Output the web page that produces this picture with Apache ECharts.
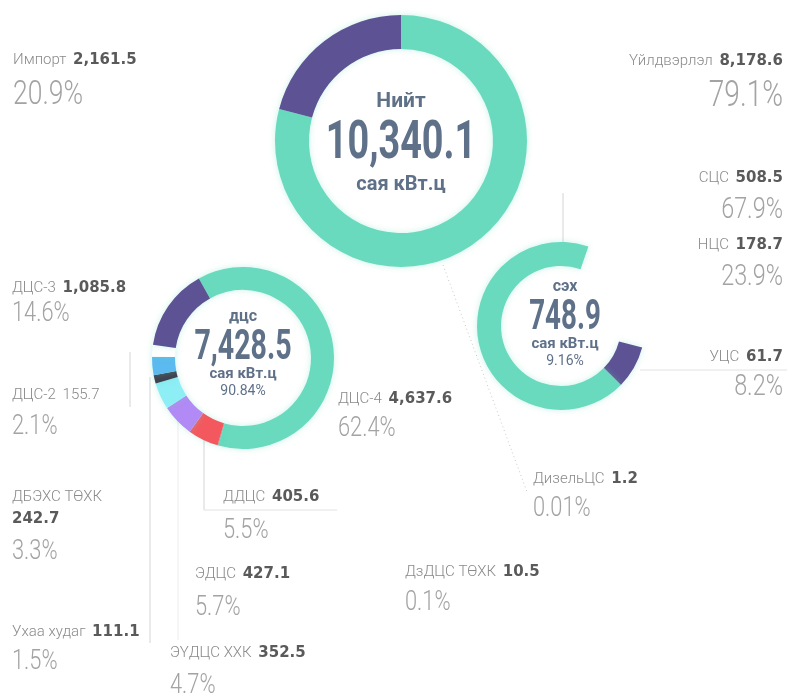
<!DOCTYPE html>
<html>
<head>
<meta charset="utf-8">
<script src="https://cdn.jsdelivr.net/npm/echarts@6/dist/echarts.min.js"></script>
<style>
  html, body { margin: 0; padding: 0; background: #fff; }
  #chart { width: 787px; height: 696px; }
</style>
</head>
<body>
<div id="chart"></div>
<script>
// нийт: үйлдвэрлэл + импорт
const totalNames = ['Үйлдвэрлэл', 'Импорт']
const totalValues = [8178.6, 2161.5]
const totalPct = ['79.1%', '20.9%']

// ДЦС (цагийн зүүний дагуу, дээрээс)
const dcsNames = ['ДЦС-4', 'ДзДЦС ТӨХК', 'ДДЦС', 'ЭДЦС', 'ЭҮДЦС ХХК', 'Ухаа худаг', 'ДБЭХС ТӨХК', 'ДЦС-2', 'ДЦС-3']
const dcsValues = [4637.6, 10.5, 405.6, 427.1, 352.5, 111.1, 242.7, 155.7, 1085.8]
const dcsPct = ['62.4%', '0.1%', '5.5%', '5.7%', '4.7%', '1.5%', '3.3%', '2.1%', '14.6%']

// СЭХ
const sehNames = ['НЦС', 'УЦС', 'СЦС']
const sehValues = [178.7, 61.7, 508.5]
const sehPct = ['23.9%', '8.2%', '67.9%']

// дизель
const dieselName = 'ДизельЦС'
const dieselValue = 1.2
const dieselPct = '0.01%'

// төвийн бичвэр
const centerTitles = ['Нийт', 'дцс', 'сэх']
const centerTotals = ['10,340.1', '7,428.5', '748.9']
const centerShares = ['', '90.84%', '9.16%']
const unit = 'сая кВт.ц'

const TEAL = '#69dabd'
const PURPLE = '#5d5394'
const SLATE = '#5f7189'
const SANS = "Roboto,'Noto Sans',sans-serif"
const BOLD = "'DejaVu Sans',sans-serif"

const fmt = v => v.toLocaleString('en-US', { minimumFractionDigits: 1, maximumFractionDigits: 1 })

let mycharts = echarts.init(document.getElementById('chart'), null, { renderer: 'canvas' })

// шахсан (нарийн) бичвэр
function narrow(x, y, text, size, align, scale, color, weight = 300) {
  return {
    type: 'text', silent: true,
    x: x, y: y, scaleX: scale,
    style: {
      x: 0, y: 0, text: text,
      align: align, verticalAlign: 'middle',
      fontSize: size, fontWeight: weight, fontFamily: SANS, fill: color,
    },
  }
}

// нэг шошго: нэр + утга, доор нь хувь
function label(x, y, name, value, pct, align, pctSize, valueBold = true, gap = 31) {
  return [
    {
      type: 'text',
      silent: true,
      style: {
        x: x, y: y,
        text: '{n|' + name + '}  {v|' + value + '}',
        align: align, verticalAlign: 'middle',
        rich: {
          n: { fontSize: 15, fontWeight: 300, fontFamily: SANS, fill: '#8a8a8a', color: '#8a8a8a' },
          v: valueBold
            ? { fontSize: 15, fontFamily: BOLD, fontWeight: 'bold', color: '#5a5a5a', fill: '#5a5a5a' }
            : { fontSize: 15, fontFamily: SANS, fontWeight: 300, color: '#8a8a8a', fill: '#8a8a8a' },
        },
      },
    },
    narrow(x, y + gap, pct, pctSize, align, 0.78, '#a3a3a3'),
  ]
}

function line(x1, y1, x2, y2, color = '#d4d4d4', dash = null) {
  return {
    type: 'line', silent: true,
    shape: { x1, y1, x2, y2 },
    style: { stroke: color, lineWidth: 1, lineDash: dash },
  }
}

function center(cx, cy, i, big, small, titleSize, gapTop, gapBottom, scale) {
  const out = [
    { type: 'text', silent: true, style: { x: cx, y: cy - gapTop, text: centerTitles[i], align: 'center', verticalAlign: 'middle', fontSize: titleSize, fontWeight: 'bold', fontFamily: SANS, fill: SLATE } },
    narrow(cx, cy, centerTotals[i], big, 'center', scale, SLATE, 'bold'),
    { type: 'text', silent: true, style: { x: cx, y: cy + gapBottom, text: unit, align: 'center', verticalAlign: 'middle', fontSize: small, fontWeight: 'bold', fontFamily: SANS, fill: SLATE } },
  ]
  if (centerShares[i]) {
    out.push({ type: 'text', silent: true, style: { x: cx, y: cy + gapBottom + 17, text: centerShares[i], align: 'center', verticalAlign: 'middle', fontSize: 14, fontFamily: SANS, fill: SLATE } })
  }
  return out
}

const pieBase = {
  type: 'pie',
  silent: true,
  avoidLabelOverlap: false,
  label: { show: false },
  labelLine: { show: false },
  emphasis: { disabled: true },
  itemStyle: { borderWidth: 0, shadowBlur: 6, shadowColor: 'rgba(105,218,189,0.35)' },
}

let graphics = []
graphics = graphics.concat(
  // зүүн тал
  label(13, 60, totalNames[1], fmt(totalValues[1]), totalPct[1], 'left', 34, true, 35),
  label(12, 288, dcsNames[8], fmt(dcsValues[8]), dcsPct[8], 'left', 28, true, 26),
  label(12, 395, dcsNames[7], fmt(dcsValues[7]), dcsPct[7], 'left', 28, false, 32),
  label(12, 632, dcsNames[5], fmt(dcsValues[5]), dcsPct[5], 'left', 28, true, 30),
  label(223, 497, dcsNames[2], fmt(dcsValues[2]), dcsPct[2], 'left', 28, true, 34),
  label(195, 574, dcsNames[3], fmt(dcsValues[3]), dcsPct[3], 'left', 28, true, 34),
  label(170, 653, dcsNames[4], fmt(dcsValues[4]), dcsPct[4], 'left', 28, true, 33),
  label(338, 399, dcsNames[0], fmt(dcsValues[0]), dcsPct[0], 'left', 28, true, 30),
  label(405, 572, dcsNames[1], fmt(dcsValues[1]), dcsPct[1], 'left', 28, true, 31),
  label(533, 479, dieselName, fmt(dieselValue), dieselPct, 'left', 28, true, 30),
  // баруун тал
  label(783, 61, totalNames[0], fmt(totalValues[0]), totalPct[0], 'right', 36, true, 36),
  label(783, 178, sehNames[2], fmt(sehValues[2]), sehPct[2], 'right', 30, true, 32),
  label(783, 245, sehNames[0], fmt(sehValues[0]), sehPct[0], 'right', 30, true, 32),
  label(783, 357, sehNames[1], fmt(sehValues[1]), sehPct[1], 'right', 30, true, 30),
  // ДБЭХС хоёр мөрөнд
  [
    { type: 'text', silent: true, style: { x: 12, y: 497, text: dcsNames[6], align: 'left', verticalAlign: 'middle', fontSize: 15, fontWeight: 300, fontFamily: SANS, fill: '#8a8a8a' } },
    { type: 'text', silent: true, style: { x: 12, y: 519, text: fmt(dcsValues[6]), align: 'left', verticalAlign: 'middle', fontSize: 15, fontWeight: 'bold', fontFamily: BOLD, fill: '#5a5a5a' } },
    narrow(12, 552, dcsPct[6], 28, 'left', 0.78, '#a3a3a3'),
  ],
  // холбох шугам
  [
    line(563, 193, 563, 242),
    line(640, 370, 787, 370, '#e2e2e2'),
    line(130, 352, 130, 407),
    line(150, 377, 150, 643),
    line(178, 410, 178, 640, '#ececec'),
    line(204, 425, 204, 510),
    line(204, 510, 337, 510, '#e2e2e2'),
    line(443, 265, 527, 492, '#c8c8c8', [1, 3]),
  ],
  center(401, 144, 0, 54, 20, 21, 42, 41, 0.7),
  center(243, 348, 1, 42, 15, 16, 31, 26, 0.68),
  center(565, 318, 2, 42, 15, 16, 31, 26, 0.66),
)

mycharts.setOption({
  animation: false,
  series: [
    {
      ...pieBase,
      center: [401, 141],
      radius: [92, 126],
      startAngle: 90,
      data: totalNames.map((n, i) => ({ name: n, value: totalValues[i] })),
      color: [TEAL, PURPLE],
    },
    {
      ...pieBase,
      center: [243, 358],
      radius: [68, 91],
      startAngle: 119,
      data: dcsNames.map((n, i) => ({ name: n, value: dcsValues[i] })),
      color: [TEAL, '#9a9a9a', '#f4585f', '#b28af5', '#8eeef6', '#3e4251', '#5bbaf0', '#ffffff', PURPLE],
    },
    {
      ...pieBase,
      center: [561, 326],
      radius: [60, 84],
      startAngle: 71,
      data: sehNames.map((n, i) => ({ name: n, value: sehValues[i] })),
      color: ['rgba(0,0,0,0)', PURPLE, TEAL],
    },
  ],
  graphic: graphics.flat(),
})
</script>
</body>
</html>
